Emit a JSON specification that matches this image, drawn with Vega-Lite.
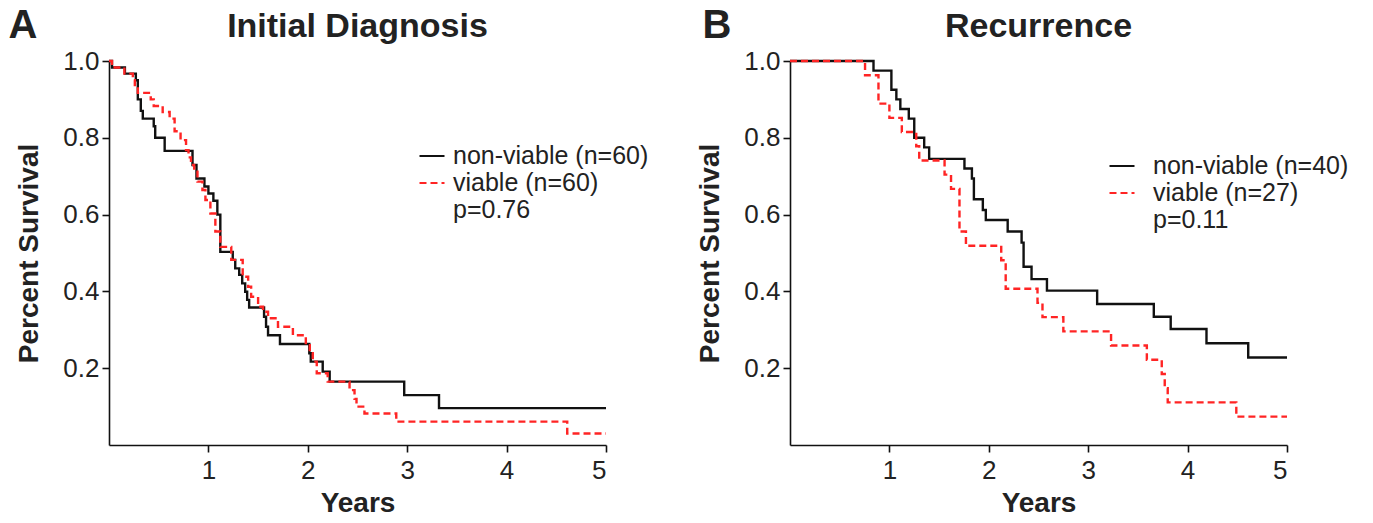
{
  "$schema": "https://vega.github.io/schema/vega-lite/v6.json",
  "padding": {"left": 8, "top": 5, "right": 5, "bottom": 2},
  "background": "white",
  "config": {
    "view": {"stroke": null},
    "font": "Liberation Sans",
    "axis": {
      "grid": false,
      "domainColor": "#111",
      "domainWidth": 1.6,
      "tickColor": "#111",
      "tickWidth": 1.6,
      "tickSize": 7,
      "labelFontSize": 26,
      "labelColor": "#222",
      "labelPadding": 3,
      "titleFontSize": 28,
      "titleFontWeight": "bold",
      "titleColor": "#222"
    },
    "axisX": {"labelPadding": 5, "titlePadding": 6},
    "axisY": {"titlePadding": 19},
    "legend": {
      "padding": 0,
      "labelFontSize": 25,
      "labelLimit": 0,
      "labelColor": "#222",
      "symbolType": "stroke",
      "symbolSize": 625,
      "symbolStrokeWidth": 2.2,
      "rowPadding": -2.5
    },
    "text": {"color": "#222", "font": "Liberation Sans", "fontWeight": "bold"}
  },
  "spacing": 47,
  "resolve": {
    "scale": {"color": "independent", "strokeDash": "independent", "x": "independent", "y": "independent"},
    "legend": {"color": "independent", "strokeDash": "independent"}
  },
  "hconcat": [
    {
      "width": 497,
      "height": 384,
      "layer": [
        {
          "data": {"values": [
            {"group": "non-viable (n=60)", "t": 0, "s": 1.0},
            {"group": "non-viable (n=60)", "t": 0.03, "s": 0.983},
            {"group": "non-viable (n=60)", "t": 0.16, "s": 0.967},
            {"group": "non-viable (n=60)", "t": 0.27, "s": 0.95},
            {"group": "non-viable (n=60)", "t": 0.29, "s": 0.9},
            {"group": "non-viable (n=60)", "t": 0.32, "s": 0.87},
            {"group": "non-viable (n=60)", "t": 0.34, "s": 0.85},
            {"group": "non-viable (n=60)", "t": 0.45, "s": 0.83},
            {"group": "non-viable (n=60)", "t": 0.465, "s": 0.8},
            {"group": "non-viable (n=60)", "t": 0.56, "s": 0.766},
            {"group": "non-viable (n=60)", "t": 0.84, "s": 0.729},
            {"group": "non-viable (n=60)", "t": 0.88, "s": 0.694},
            {"group": "non-viable (n=60)", "t": 0.96, "s": 0.673},
            {"group": "non-viable (n=60)", "t": 1.0, "s": 0.655},
            {"group": "non-viable (n=60)", "t": 1.05, "s": 0.636},
            {"group": "non-viable (n=60)", "t": 1.09, "s": 0.6},
            {"group": "non-viable (n=60)", "t": 1.12, "s": 0.503},
            {"group": "non-viable (n=60)", "t": 1.245, "s": 0.482},
            {"group": "non-viable (n=60)", "t": 1.27, "s": 0.46},
            {"group": "non-viable (n=60)", "t": 1.31, "s": 0.443},
            {"group": "non-viable (n=60)", "t": 1.34, "s": 0.421},
            {"group": "non-viable (n=60)", "t": 1.37, "s": 0.399},
            {"group": "non-viable (n=60)", "t": 1.39, "s": 0.378},
            {"group": "non-viable (n=60)", "t": 1.41, "s": 0.358},
            {"group": "non-viable (n=60)", "t": 1.56, "s": 0.334},
            {"group": "non-viable (n=60)", "t": 1.58, "s": 0.308},
            {"group": "non-viable (n=60)", "t": 1.6, "s": 0.286},
            {"group": "non-viable (n=60)", "t": 1.72, "s": 0.263},
            {"group": "non-viable (n=60)", "t": 2.015, "s": 0.239},
            {"group": "non-viable (n=60)", "t": 2.03, "s": 0.217},
            {"group": "non-viable (n=60)", "t": 2.15, "s": 0.191},
            {"group": "non-viable (n=60)", "t": 2.22, "s": 0.165},
            {"group": "non-viable (n=60)", "t": 2.97, "s": 0.13},
            {"group": "non-viable (n=60)", "t": 3.32, "s": 0.096},
            {"group": "non-viable (n=60)", "t": 5.0, "s": 0.096},
            {"group": "viable (n=60)", "t": 0, "s": 1.0},
            {"group": "viable (n=60)", "t": 0.03, "s": 0.983},
            {"group": "viable (n=60)", "t": 0.155, "s": 0.967},
            {"group": "viable (n=60)", "t": 0.24, "s": 0.95},
            {"group": "viable (n=60)", "t": 0.26, "s": 0.933},
            {"group": "viable (n=60)", "t": 0.29, "s": 0.917},
            {"group": "viable (n=60)", "t": 0.42, "s": 0.9},
            {"group": "viable (n=60)", "t": 0.45, "s": 0.883},
            {"group": "viable (n=60)", "t": 0.54, "s": 0.867},
            {"group": "viable (n=60)", "t": 0.61, "s": 0.85},
            {"group": "viable (n=60)", "t": 0.66, "s": 0.817},
            {"group": "viable (n=60)", "t": 0.72, "s": 0.794},
            {"group": "viable (n=60)", "t": 0.775, "s": 0.768},
            {"group": "viable (n=60)", "t": 0.8, "s": 0.749},
            {"group": "viable (n=60)", "t": 0.825, "s": 0.729},
            {"group": "viable (n=60)", "t": 0.857, "s": 0.712},
            {"group": "viable (n=60)", "t": 0.89, "s": 0.686},
            {"group": "viable (n=60)", "t": 0.94, "s": 0.664},
            {"group": "viable (n=60)", "t": 0.97, "s": 0.638},
            {"group": "viable (n=60)", "t": 1.02, "s": 0.603},
            {"group": "viable (n=60)", "t": 1.07, "s": 0.556},
            {"group": "viable (n=60)", "t": 1.12, "s": 0.516},
            {"group": "viable (n=60)", "t": 1.23, "s": 0.482},
            {"group": "viable (n=60)", "t": 1.345, "s": 0.438},
            {"group": "viable (n=60)", "t": 1.4, "s": 0.412},
            {"group": "viable (n=60)", "t": 1.43, "s": 0.386},
            {"group": "viable (n=60)", "t": 1.5, "s": 0.36},
            {"group": "viable (n=60)", "t": 1.55, "s": 0.347},
            {"group": "viable (n=60)", "t": 1.6, "s": 0.33},
            {"group": "viable (n=60)", "t": 1.7, "s": 0.308},
            {"group": "viable (n=60)", "t": 1.85, "s": 0.286},
            {"group": "viable (n=60)", "t": 1.98, "s": 0.26},
            {"group": "viable (n=60)", "t": 2.02, "s": 0.239},
            {"group": "viable (n=60)", "t": 2.05, "s": 0.217},
            {"group": "viable (n=60)", "t": 2.09, "s": 0.187},
            {"group": "viable (n=60)", "t": 2.2, "s": 0.165},
            {"group": "viable (n=60)", "t": 2.42, "s": 0.143},
            {"group": "viable (n=60)", "t": 2.47, "s": 0.12},
            {"group": "viable (n=60)", "t": 2.49, "s": 0.1},
            {"group": "viable (n=60)", "t": 2.57, "s": 0.082},
            {"group": "viable (n=60)", "t": 2.89, "s": 0.061},
            {"group": "viable (n=60)", "t": 4.61, "s": 0.03},
            {"group": "viable (n=60)", "t": 5.0, "s": 0.03}
          ]},
          "mark": {"type": "line", "interpolate": "step-after", "strokeWidth": 2.4},
          "encoding": {
            "x": {"field": "t", "type": "quantitative", "scale": {"domain": [0, 5], "nice": false}, "axis": {"values": [1, 2, 3, 4, 5], "format": "d", "title": "Years"}},
            "y": {"field": "s", "type": "quantitative", "scale": {"domain": [0, 1], "nice": false}, "axis": {"values": [0.2, 0.4, 0.6, 0.8, 1.0], "format": ".1f", "title": "Percent Survival"}},
            "color": {"field": "group", "type": "nominal",
              "scale": {"domain": ["non-viable (n=60)", "viable (n=60)", "p=0.76"], "range": ["#111111", "#ff2424", "rgba(0,0,0,0)"]},
              "legend": {"orient": "none", "legendX": 309, "legendY": 81, "title": null, "labelOffset": 7}},
            "strokeDash": {"field": "group", "type": "nominal",
              "scale": {"domain": ["non-viable (n=60)", "viable (n=60)", "p=0.76"], "range": [[1, 0], [7, 4], [1, 0]]},
              "legend": {"orient": "none", "legendX": 309, "legendY": 81, "title": null, "labelOffset": 7}}
          }
        },
        {
          "data": {"values": [{}]},
          "mark": {"type": "text", "text": "A", "fontSize": 40, "align": "center", "baseline": "alphabetic"},
          "encoding": {"x": {"datum": -0.865}, "y": {"datum": 1.06}}
        },
        {
          "data": {"values": [{}]},
          "mark": {"type": "text", "text": "Initial Diagnosis", "fontSize": 34, "align": "center", "baseline": "alphabetic"},
          "encoding": {"x": {"datum": 2.5}, "y": {"datum": 1.0625}}
        }
      ]
    },
    {
      "width": 497,
      "height": 384,
      "layer": [
        {
          "data": {"values": [
            {"group": "non-viable (n=40)", "t": 0, "s": 1.0},
            {"group": "non-viable (n=40)", "t": 0.84, "s": 0.975},
            {"group": "non-viable (n=40)", "t": 1.02, "s": 0.925},
            {"group": "non-viable (n=40)", "t": 1.07, "s": 0.9},
            {"group": "non-viable (n=40)", "t": 1.11, "s": 0.875},
            {"group": "non-viable (n=40)", "t": 1.195, "s": 0.85},
            {"group": "non-viable (n=40)", "t": 1.25, "s": 0.8},
            {"group": "non-viable (n=40)", "t": 1.35, "s": 0.775},
            {"group": "non-viable (n=40)", "t": 1.4, "s": 0.745},
            {"group": "non-viable (n=40)", "t": 1.755, "s": 0.72},
            {"group": "non-viable (n=40)", "t": 1.83, "s": 0.694},
            {"group": "non-viable (n=40)", "t": 1.85, "s": 0.64},
            {"group": "non-viable (n=40)", "t": 1.94, "s": 0.612},
            {"group": "non-viable (n=40)", "t": 1.97, "s": 0.586},
            {"group": "non-viable (n=40)", "t": 2.19, "s": 0.556},
            {"group": "non-viable (n=40)", "t": 2.33, "s": 0.527},
            {"group": "non-viable (n=40)", "t": 2.35, "s": 0.464},
            {"group": "non-viable (n=40)", "t": 2.43, "s": 0.432},
            {"group": "non-viable (n=40)", "t": 2.585, "s": 0.402},
            {"group": "non-viable (n=40)", "t": 3.09, "s": 0.367},
            {"group": "non-viable (n=40)", "t": 3.66, "s": 0.334},
            {"group": "non-viable (n=40)", "t": 3.83, "s": 0.302},
            {"group": "non-viable (n=40)", "t": 4.19, "s": 0.265},
            {"group": "non-viable (n=40)", "t": 4.61, "s": 0.228},
            {"group": "non-viable (n=40)", "t": 5.0, "s": 0.228},
            {"group": "viable (n=27)", "t": 0, "s": 1.0},
            {"group": "viable (n=27)", "t": 0.755, "s": 0.963},
            {"group": "viable (n=27)", "t": 0.89, "s": 0.889},
            {"group": "viable (n=27)", "t": 1.0, "s": 0.852},
            {"group": "viable (n=27)", "t": 1.125, "s": 0.815},
            {"group": "viable (n=27)", "t": 1.27, "s": 0.778},
            {"group": "viable (n=27)", "t": 1.3, "s": 0.741},
            {"group": "viable (n=27)", "t": 1.555, "s": 0.704},
            {"group": "viable (n=27)", "t": 1.62, "s": 0.667},
            {"group": "viable (n=27)", "t": 1.705, "s": 0.556},
            {"group": "viable (n=27)", "t": 1.77, "s": 0.519},
            {"group": "viable (n=27)", "t": 2.125, "s": 0.481},
            {"group": "viable (n=27)", "t": 2.17, "s": 0.407},
            {"group": "viable (n=27)", "t": 2.49, "s": 0.37},
            {"group": "viable (n=27)", "t": 2.54, "s": 0.333},
            {"group": "viable (n=27)", "t": 2.75, "s": 0.296},
            {"group": "viable (n=27)", "t": 3.23, "s": 0.259},
            {"group": "viable (n=27)", "t": 3.59, "s": 0.222},
            {"group": "viable (n=27)", "t": 3.74, "s": 0.185},
            {"group": "viable (n=27)", "t": 3.77, "s": 0.148},
            {"group": "viable (n=27)", "t": 3.8, "s": 0.111},
            {"group": "viable (n=27)", "t": 4.49, "s": 0.074},
            {"group": "viable (n=27)", "t": 5.0, "s": 0.074}
          ]},
          "mark": {"type": "line", "interpolate": "step-after", "strokeWidth": 2.4},
          "encoding": {
            "x": {"field": "t", "type": "quantitative", "scale": {"domain": [0, 5], "nice": false}, "axis": {"values": [1, 2, 3, 4, 5], "format": "d", "title": "Years"}},
            "y": {"field": "s", "type": "quantitative", "scale": {"domain": [0, 1], "nice": false}, "axis": {"values": [0.2, 0.4, 0.6, 0.8, 1.0], "format": ".1f", "title": "Percent Survival"}},
            "color": {"field": "group", "type": "nominal",
              "scale": {"domain": ["non-viable (n=40)", "viable (n=27)", "p=0.11"], "range": ["#111111", "#ff2424", "rgba(0,0,0,0)"]},
              "legend": {"orient": "none", "legendX": 318, "legendY": 91, "title": null, "labelOffset": 17}},
            "strokeDash": {"field": "group", "type": "nominal",
              "scale": {"domain": ["non-viable (n=40)", "viable (n=27)", "p=0.11"], "range": [[1, 0], [7, 4], [1, 0]]},
              "legend": {"orient": "none", "legendX": 318, "legendY": 91, "title": null, "labelOffset": 17}}
          }
        },
        {
          "data": {"values": [{}]},
          "mark": {"type": "text", "text": "B", "fontSize": 40, "align": "center", "baseline": "alphabetic"},
          "encoding": {"x": {"datum": -0.735}, "y": {"datum": 1.06}}
        },
        {
          "data": {"values": [{}]},
          "mark": {"type": "text", "text": "Recurrence", "fontSize": 34, "align": "center", "baseline": "alphabetic"},
          "encoding": {"x": {"datum": 2.5}, "y": {"datum": 1.0625}}
        }
      ]
    }
  ]
}
